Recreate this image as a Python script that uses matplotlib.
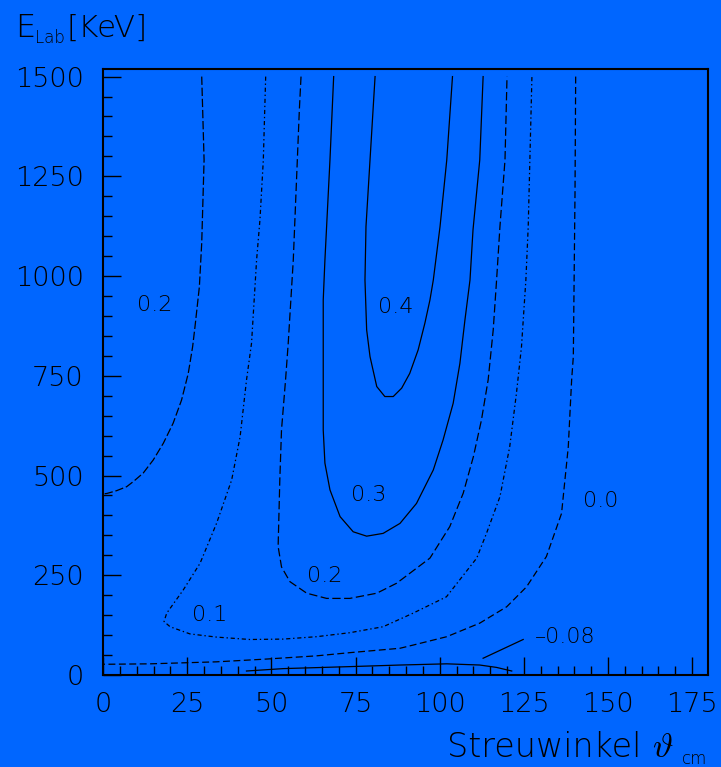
import matplotlib
matplotlib.use("Agg")
import matplotlib.pyplot as plt
from matplotlib.ticker import MultipleLocator

plt.rcParams['font.family'] = ['DejaVu Sans']
plt.rcParams['font.weight'] = 200
plt.rcParams['lines.scale_dashes'] = False

BG = '#0066ff'

# ---- contour curves (theta_cm, E_lab) ----
c02_outer_x = [29.3, 30.0, 29.3, 28.6, 27.3, 26.6, 25.3, 23.3, 20.8, 17.9, 14.9, 11.9,
               9.0, 7.0, 4.0, 1.1, 0.0]
c02_outer_y = [1500, 1291, 1083, 973, 873, 823, 756, 689, 631, 581, 539, 506,
               485, 472, 462, 455, 454]

c01_x = [48.3, 47.6, 46.6, 45.6, 44.1, 42.6, 40.7, 38.2, 33.7, 28.8, 23.8, 18.9, 18.1,
         19.9, 25.8, 33.7, 43.6, 53.5, 63.4, 73.3, 83.2, 92.1, 102.0, 111.0, 113.9,
         117.9, 120.8, 122.8, 124.3, 125.6, 126.3, 127.4]
c01_y = [1500, 1291, 1141, 1040, 832, 739, 597, 489, 380, 280, 213, 155, 134,
         121, 103, 95, 89, 90, 96, 106, 121, 155, 196, 293, 355,
         447, 572, 706, 823, 990, 1124, 1500]

c02_inner_x = [58.8, 58.3, 56.5, 55.0, 54.2, 53.0, 52.5, 52.0, 53.0, 55.5, 60.5, 66.4,
               73.3, 81.3, 87.2, 97.1, 103.0, 107.0, 110.0, 112.4, 114.4, 115.9, 116.9,
               117.9, 119.4, 120.0]
c02_inner_y = [1500, 1416, 1040, 832, 739, 614, 489, 322, 271, 234, 205, 192,
               192, 205, 230, 293, 372, 456, 547, 639, 740, 865, 990,
               1124, 1291, 1500]

c03_x = [68.5, 67.4, 65.9, 65.4, 65.4, 65.9, 67.4, 70.4, 74.3, 78.3, 83.2, 88.2,
         93.1, 98.1, 101.0, 104.0, 106.0, 107.5, 109.0, 109.9, 111.9, 112.9]
c03_y = [1500, 1291, 1040, 940, 614, 531, 464, 397, 359, 348, 355, 380,
         430, 514, 589, 681, 781, 890, 990, 1116, 1291, 1500]

c04_x = [80.8, 79.3, 78.1, 77.8, 78.3, 79.3, 81.3, 83.7, 86.2, 88.7, 91.1, 93.6,
         95.6, 97.1, 98.1, 100.1, 102.1, 103.8]
c04_y = [1500, 1291, 1124, 990, 865, 798, 723, 698, 698, 719, 756, 815,
         882, 940, 990, 1124, 1291, 1500]

c00_x = [140.4, 140.2, 139.7, 139.2, 138.2, 136.2, 131.7, 125.8, 119.9, 111.9, 102.1,
         92.1, 88.2, 73.3, 63.4, 48.6, 33.7, 13.9, 2.0, 0.0]
c00_y = [1500, 1208, 798, 740, 572, 405, 297, 221, 171, 130, 96,
         75, 67, 56, 48, 40, 33, 28, 27, 27]

cm008_x = [42.6, 53.5, 73.3, 88.2, 102.1, 111.9, 116.9, 121.4]
cm008_y = [10, 16, 21, 25, 28, 25, 19, 10]

leader_x = [112.9, 124.8]
leader_y = [42, 89]

# contour labels: text, x, y
label_text = ['0.2', '0.4', '0.3', '0.2', '0.1', '0.0', '–0.08']
label_x = [15.4, 87.0, 78.8, 65.9, 31.7, 147.9, 128.3]
label_y = [927, 922, 451, 248, 151, 436, 95]

xticks = [0, 25, 50, 75, 100, 125, 150, 175]
yticks = [0, 250, 500, 750, 1000, 1250, 1500]

W, H = 721, 767
fig = plt.figure(figsize=(W / 100, H / 100), dpi=100, facecolor=BG)
L, R, T, B = 103.1, 708.3, 69.0, 675.0
ax = fig.add_axes([L / W, (H - B) / H, (R - L) / W, (B - T) / H])
ax.set_facecolor(BG)
ax.set_xlim(0, 179.8)
ax.set_ylim(0, 1519)

lw = 0.9
ax.plot(c02_outer_x, c02_outer_y, color='black', lw=lw, dashes=(6, 2))
ax.plot(c02_inner_x, c02_inner_y, color='black', lw=lw, dashes=(6, 2.5))
ax.plot(c01_x, c01_y, color='black', lw=lw, dashes=(3, 2, 1, 2))
ax.plot(c03_x, c03_y, color='black', lw=lw)
ax.plot(c04_x, c04_y, color='black', lw=lw)
ax.plot(c00_x, c00_y, color='black', lw=lw, dashes=(5, 2.5))
ax.plot(cm008_x, cm008_y, color='black', lw=lw)
ax.plot(leader_x, leader_y, color='black', lw=lw)

for t, x, y in zip(label_text, label_x, label_y):
    ha = 'left' if t.startswith('–') else 'center'
    ax.text(x, y, t, fontsize=16, ha=ha, va='center', color='black')

for s in ['top', 'right', 'bottom', 'left']:
    ax.spines[s].set_linewidth(1.5)
    ax.spines[s].set_color('black')

ax.set_xticks(xticks)
ax.set_yticks(yticks)
ax.xaxis.set_minor_locator(MultipleLocator(5))
ax.yaxis.set_minor_locator(MultipleLocator(50))
ax.tick_params(which='both', direction='in', top=False, right=False, colors='black')
ax.tick_params(which='major', length=13, width=1.0, labelsize=19.5)
ax.tick_params(which='minor', length=6.5, width=1.0)
ax.tick_params(axis='x', which='major', pad=12)
ax.tick_params(axis='y', which='major', pad=14)

# axis titles
fig.text(15 / W, 1 - 37 / H, 'E', fontsize=23, ha='left', va='baseline')
fig.text(35 / W, 1 - 43 / H, 'Lab', fontsize=12, ha='left', va='baseline')
fig.text(67 / W, 1 - 37 / H, '[KeV]', fontsize=22.4, ha='left', va='baseline')

fig.text(447 / W, 1 - 757 / H, 'Streuwinkel', fontsize=24, ha='left', va='baseline')
fig.text(652 / W, 1 - 757 / H, r'$\vartheta$', fontsize=25, ha='left', va='baseline',
         math_fontfamily='cm')
fig.text(682 / W, 1 - 764 / H, 'cm', fontsize=12, ha='left', va='baseline')

fig.savefig('out.png', dpi=100, facecolor=BG)
